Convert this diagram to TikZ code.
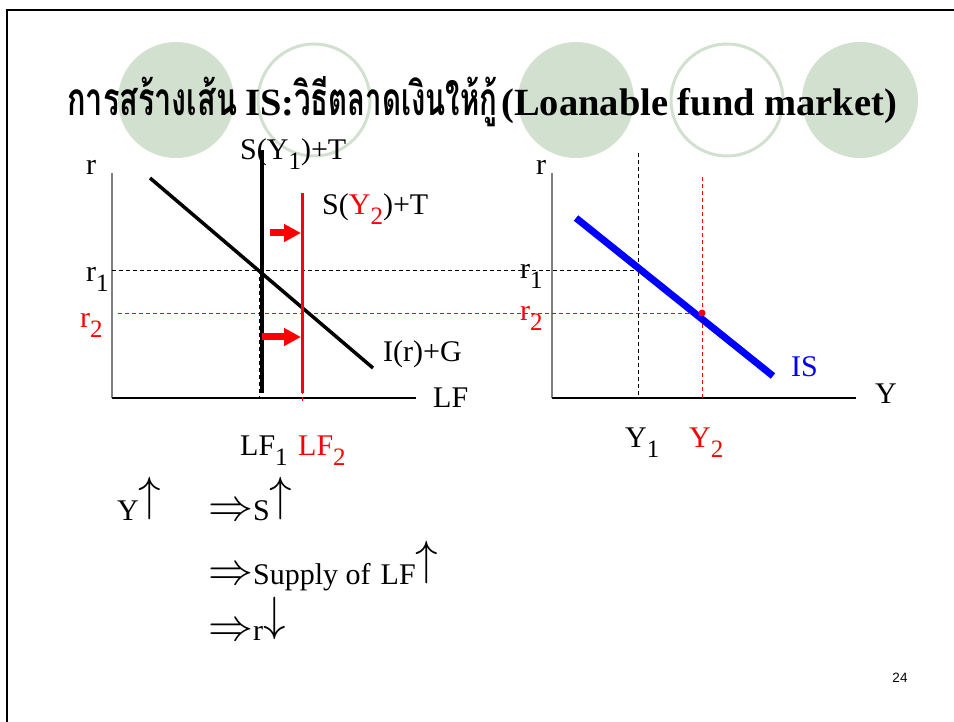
\documentclass[tikz,border=0pt]{standalone}
\usepackage{fontspec}
\usepackage{graphicx}
\setmainfont{Liberation Serif}
\newfontfamily\thai[Script=Thai]{Loma}
\newfontfamily\pagefont{Liberation Sans}
\usetikzlibrary{positioning,arrows.meta}
\definecolor{sage}{HTML}{D2E0D0}
\definecolor{axgray}{HTML}{808080}
\definecolor{lfred}{HTML}{FF0000}
\definecolor{isblue}{HTML}{0000FF}
\newcommand{\lo}[1]{\raisebox{-10pt}{\fontsize{25}{25}\selectfont #1}}
\newcommand{\rd}[1]{\textcolor{lfred}{#1}}
\newcommand{\thenarrow}{{\fontsize{10}{12}\selectfont\scalebox{4.5}[4.5]{$\Rightarrow$}}}
\newcommand{\goesup}{{\fontsize{10}{12}\selectfont\raisebox{9.3pt}{\scalebox{4.5}[4.8]{$\uparrow$}}}}
\newcommand{\goesdown}{{\fontsize{10}{12}\selectfont\raisebox{9.3pt}[22pt][0pt]{\scalebox{4.5}[4.8]{$\downarrow$}}}}
\tikzset{
  frame/.style={line width=2.5pt, line cap=rect},
  disc/.style={circle, fill=sage, minimum size=116pt, inner sep=0pt},
  ring/.style={circle, draw=sage, line width=3pt, minimum size=112pt, inner sep=0pt},
  ttl/.style={font=\fontsize{38.5}{40}\selectfont\bfseries, inner sep=0pt},
  lbl/.style={font=\fontsize{30}{34}\selectfont, inner sep=0pt},
  yax/.style={draw=axgray, line width=2pt},
  xax/.style={line width=1.5pt},
  guide/.style={line width=0.9pt, dash pattern=on 4pt off 3pt},
  curve/.style={line width=3.5pt},
  push/.style={-{Triangle[length=17pt,width=17pt]}, draw=lfred, line width=7pt},
  dot/.style={circle, fill=lfred, minimum size=7pt, inner sep=0pt},
}
\begin{document}
\begin{tikzpicture}[x=1pt,y=-1pt]
  \useasboundingbox (0,0) rectangle (954,722);
  % slide frame and title circles
  \draw[frame] (7,722) -- (7,10) -- (954,10);
  \node[disc] (c1) at (176,100) {};
  \node[ring] (c2) at (314,100) {};
  \node[disc] (c3) at (576,100) {};
  \node[ring] (c4) at (727,100) {};
  \node[disc] (c5) at (860,100) {};
  \node[ttl, anchor=base west] (title) at (67,116)
    {\resizebox{170pt}{\height}{\thai\fontsize{46}{46}\selectfont การสร้างเส้น}\hspace{8pt}IS:\resizebox{203pt}{\height}{\thai\fontsize{46}{46}\selectfont วิธีตลาดเงินให้กู้}\hspace{4pt}(Loanable fund market)};

  % axes
  \coordinate (oL) at (112,398); \coordinate (yL) at (112,173); \coordinate (xL) at (416,398);
  \coordinate (oR) at (552,398); \coordinate (yR) at (552,173); \coordinate (xR) at (856,398);
  \draw[yax] (oL) -- (yL);
  \draw[xax] (oL) -- (xL);
  \draw[yax] (oR) -- (yR);
  \draw[xax] (oR) -- (xR);

  % guides
  \coordinate (h1a) at (112,270); \coordinate (h1b) at (638,270);
  \coordinate (h2a) at (118,313); \coordinate (h2b) at (702,313);
  \coordinate (v1a) at (259,270); \coordinate (v1b) at (259,398);
  \coordinate (v2a) at (302,313); \coordinate (v2b) at (302,403);
  \coordinate (v3a) at (638,153); \coordinate (v3b) at (638,398);
  \coordinate (v4a) at (702,177); \coordinate (v4b) at (702,398);
  \draw[guide] (h1a) -- (h1b);
  \draw[guide, lfred] (h2a) -- (h2b);
  \draw[guide] (v1a) -- (v1b);
  \draw[guide, lfred] (v2a) -- (v2b);
  \draw[guide] (v3a) -- (v3b);
  \draw[guide, lfred] (v4a) -- (v4b);

  % loanable funds market
  \coordinate (ia) at (150,178); \coordinate (ib) at (373,368);
  \coordinate (s1a) at (262,150); \coordinate (s1b) at (262,393);
  \coordinate (s2a) at (302,193); \coordinate (s2b) at (302,393);
  \draw[curve] (ia) -- (ib);
  \draw[curve, line width=4pt] (s1a) -- (s1b);
  \draw[curve, lfred, line width=3pt] (s2a) -- (s2b);
  \coordinate (pa) at (270,233); \coordinate (pb) at (301,233);
  \coordinate (qa) at (262,337); \coordinate (qb) at (301,337);
  \draw[push] (pa) -- (pb);
  \draw[push] (qa) -- (qb);

  % IS curve
  \coordinate (isa) at (576,218); \coordinate (isb) at (773,376);
  \draw[isblue, line width=7pt] (isa) -- (isb);
  \node[dot] (e2) at (702,313) {};

  % labels, left panel
  \node[lbl, anchor=base west] (rL) at (86,175) {r};
  \node[lbl, anchor=base west] (r1L) at (86,282) {r\lo{1}};
  \node[lbl, anchor=base west, lfred] (r2L) at (80,327) {r\lo{2}};
  \node[lbl, anchor=base west] (sone) at (240,160) {S(Y\lo{1})+T};
  \node[lbl, anchor=base west] (stwo) at (322,215) {S(\rd{Y\lo{2}})+T};
  \node[lbl, anchor=base west] (ir) at (383,362) {I(r)+G};
  \node[lbl, anchor=base west] (lfx) at (433,407) {LF};
  \node[lbl, anchor=base west] (lf1) at (240,455) {LF\lo{1}};
  \node[lbl, anchor=base west, lfred] (lf2) at (298,455) {LF\lo{2}};

  % labels, right panel
  \node[lbl, anchor=base west] (rR) at (536,175) {r};
  \node[lbl, anchor=base west] (r1R) at (520,279) {r\lo{1}};
  \node[lbl, anchor=base west, lfred] (r2R) at (520,320) {r\lo{2}};
  \node[lbl, anchor=base west, isblue] (isl) at (791,377) {IS};
  \node[lbl, anchor=base west] (yx) at (875,403) {Y};
  \node[lbl, anchor=base west] (y1) at (625,447) {Y\lo{1}};
  \node[lbl, anchor=base west, lfred] (y2) at (689,447) {Y\lo{2}};

  % chain of effects
  \node[lbl, anchor=base west] (yup) at (117,520) {Y\goesup};
  \node[lbl, anchor=base west] (sup) at (208,520) {\thenarrow S\goesup};
  \node[lbl, anchor=base west] (lfup) at (208,584) {\thenarrow Supply of\,\,LF\goesup};
  \node[lbl, anchor=base west] (rdown) at (208,640) {\thenarrow r\goesdown};

  \node[font=\pagefont\fontsize{13.5}{14}\selectfont, inner sep=0pt] (pg) at (900,678) {24};
\end{tikzpicture}
\end{document}
